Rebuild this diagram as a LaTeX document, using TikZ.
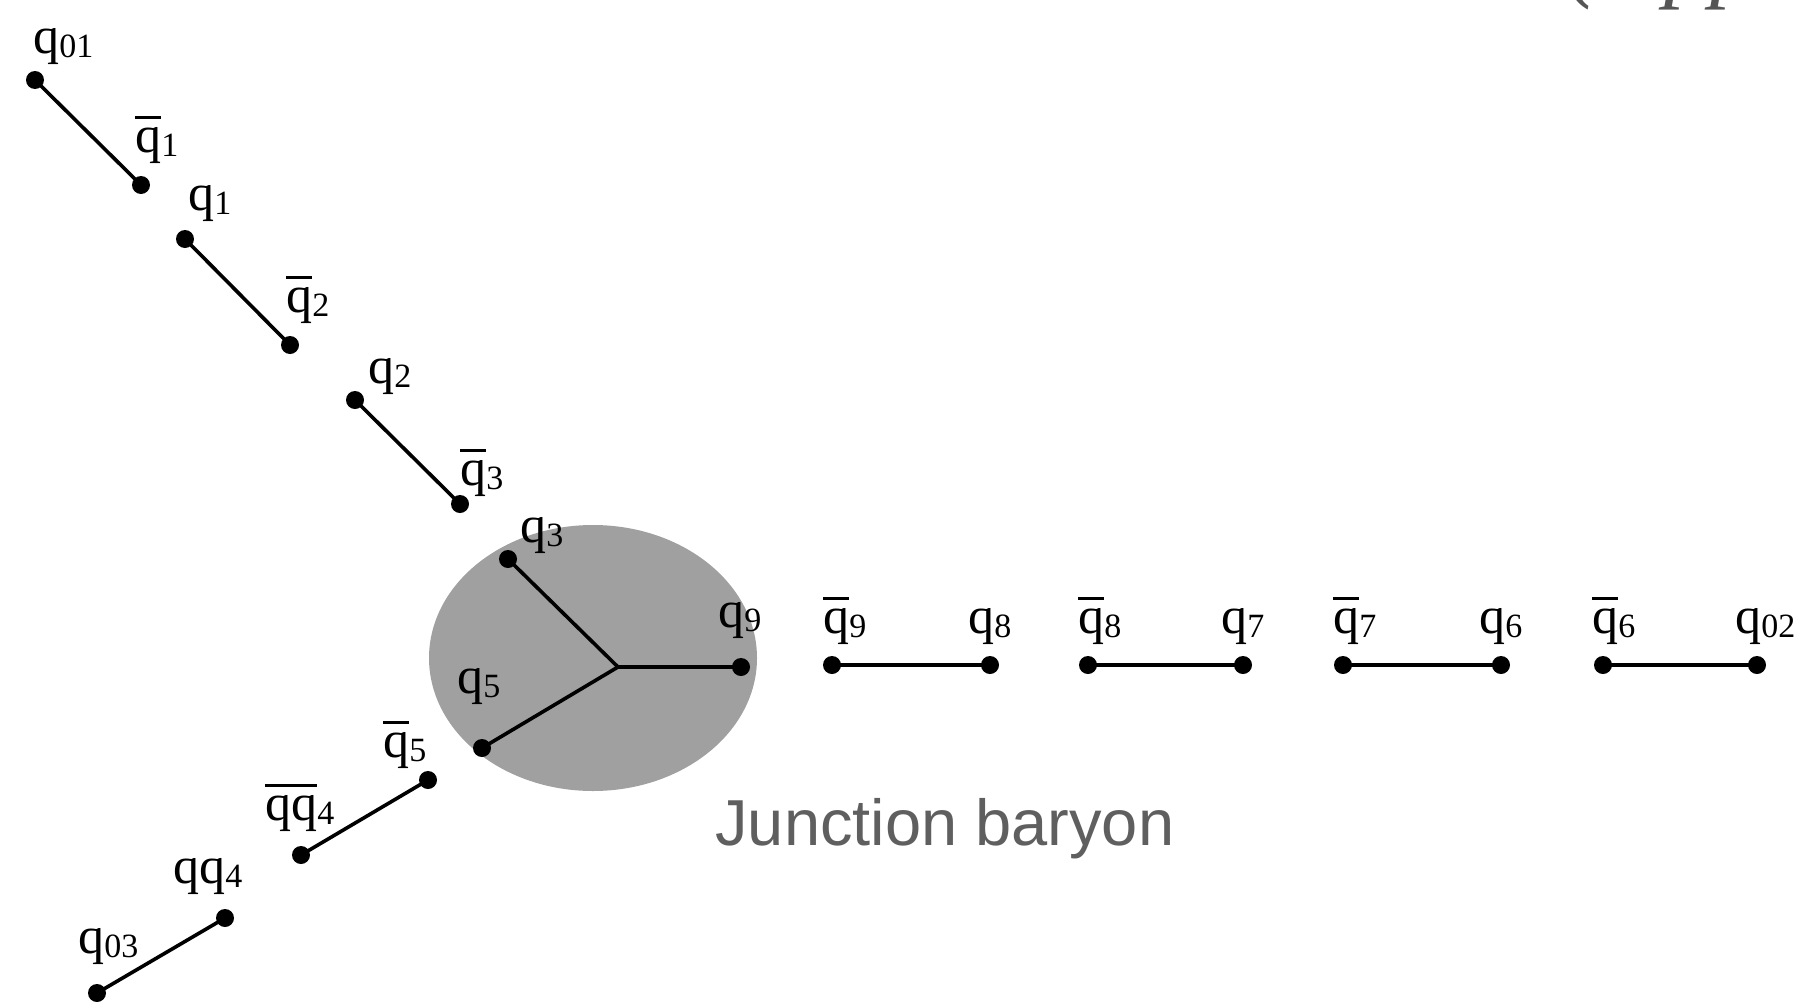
\documentclass[tikz,border=0pt]{standalone}
\usepackage{fontspec}
\newfontfamily\tms{Liberation Serif}
\newfontfamily\hv{Liberation Sans}
\definecolor{blobgray}{RGB}{160,160,160}
\definecolor{txtgray}{RGB}{95,95,95}
\definecolor{topgray}{RGB}{85,85,85}
\newcommand\qsub[1]{\raisebox{-2pt}{\fontsize{17}{17}\selectfont #1}}
\newcommand\qbar[1]{\vbox{\hrule height 1.3pt\kern 4pt\hbox{#1}}}
\newcommand\qq[1]{q\qsub{#1}}
\newcommand\qb[1]{\qbar{q}\qsub{#1}}
\begin{document}
\begin{tikzpicture}[x=0.5pt,y=-0.5pt,
  lbl/.style={anchor=base west, inner sep=0pt, font=\tms\fontsize{26}{26}\selectfont},
  dot/.style={circle, fill=black, inner sep=0pt, minimum size=9pt},
  bond/.style={line width=1.8pt}]
\useasboundingbox (0,0) rectangle (1803,1001);
% junction blob
\fill[blobgray] (593,658) ellipse [x radius=164, y radius=133];
% partial text at top right
\node[anchor=base west, inner sep=0pt, text=topgray, font=\tms\itshape\fontsize{46}{46}\selectfont] (paren) at (1567,-10) {(};
\node[anchor=base west, inner sep=0pt, text=topgray, font=\tms\itshape\fontsize{46}{46}\selectfont] (pp) at (1664,-10) {pp};
% dots
\node[dot] (q01) at (35,80) {};
\node[dot] (qb1) at (141,185) {};
\node[dot] (q1) at (185,239) {};
\node[dot] (qb2) at (290,345) {};
\node[dot] (q2) at (355,400) {};
\node[dot] (qb3) at (460,504) {};
\node[dot] (q3) at (508,559) {};
\coordinate (j) at (618,667);
\node[dot] (q9) at (741,667) {};
\node[dot] (q5) at (482,748) {};
\node[dot] (qb5) at (428,780) {};
\node[dot] (qqb4) at (301,855) {};
\node[dot] (qq4) at (225,918) {};
\node[dot] (q03) at (97,993) {};
\node[dot] (qb9) at (832,665) {};
\node[dot] (q8) at (990,665) {};
\node[dot] (qb8) at (1088,665) {};
\node[dot] (q7) at (1243,665) {};
\node[dot] (qb7) at (1343,665) {};
\node[dot] (q6) at (1501,665) {};
\node[dot] (qb6) at (1603,665) {};
\node[dot] (q02) at (1757,665) {};
% bonds
\draw[bond] (q01.center) -- (qb1.center);
\draw[bond] (q1.center) -- (qb2.center);
\draw[bond] (q2.center) -- (qb3.center);
\draw[bond] (q3.center) -- (j) -- (q9.center);
\draw[bond] (q5.center) -- (j);
\draw[bond] (qb5.center) -- (qqb4.center);
\draw[bond] (qq4.center) -- (q03.center);
\draw[bond] (qb9.center) -- (q8.center);
\draw[bond] (qb8.center) -- (q7.center);
\draw[bond] (qb7.center) -- (q6.center);
\draw[bond] (qb6.center) -- (q02.center);
% labels
\node[lbl] (l01) at (33,53) {\qq{01}};
\node[lbl] (lb1) at (135,152) {\qb{1}};
\node[lbl] (l1) at (188,210) {\qq{1}};
\node[lbl] (lb2) at (286,312) {\qb{2}};
\node[lbl] (l2) at (368,383) {\qq{2}};
\node[lbl] (lb3) at (460,485) {\qb{3}};
\node[lbl] (l3) at (520,542) {\qq{3}};
\node[lbl] (l9) at (718,627) {\qq{9}};
\node[lbl] (l5) at (457,693) {\qq{5}};
\node[lbl] (lb5) at (383,757) {\qb{5}};
\node[lbl] (lqb4) at (265,820) {\qbar{qq}\qsub{4}};
\node[lbl] (lq4) at (173,883) {qq\qsub{4}};
\node[lbl] (l03) at (78,953) {\qq{03}};
\node[lbl] (lb9) at (823,633) {\qb{9}};
\node[lbl] (l8) at (968,633) {\qq{8}};
\node[lbl] (lb8) at (1078,633) {\qb{8}};
\node[lbl] (l7) at (1221,633) {\qq{7}};
\node[lbl] (lb7) at (1333,633) {\qb{7}};
\node[lbl] (l6) at (1479,633) {\qq{6}};
\node[lbl] (lb6) at (1592,633) {\qb{6}};
\node[lbl] (l02) at (1735,633) {\qq{02}};
% caption
\node[anchor=base west, inner sep=0pt, text=txtgray, font=\hv\fontsize{32.5}{32.5}\selectfont] (jb) at (715,845) {Junction baryon};
\end{tikzpicture}
\end{document}
